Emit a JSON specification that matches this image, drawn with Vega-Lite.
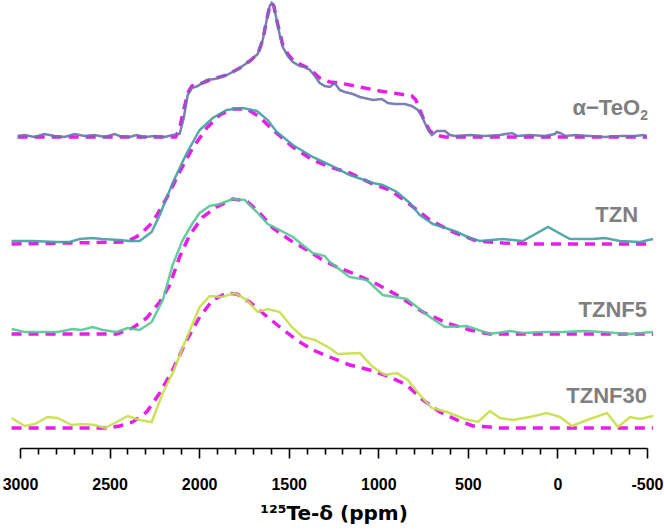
{
"$schema":"https://vega.github.io/schema/vega-lite/v6.json",
"width":627,"height":448,
"autosize":{"type":"none"},
"padding":{"left":20,"top":0,"right":17,"bottom":82},
"background":"white",
"config":{"view":{"stroke":null}},
"datasets":{
"sp":[
{"s":"α-TeO2","k":"exp","ppm":3013,"i":312},{"s":"α-TeO2","k":"exp","ppm":2974,"i":313},{"s":"α-TeO2","k":"exp","ppm":2918,"i":311},{"s":"α-TeO2","k":"exp","ppm":2863,"i":314},{"s":"α-TeO2","k":"exp","ppm":2807,"i":312},{"s":"α-TeO2","k":"exp","ppm":2751,"i":311},{"s":"α-TeO2","k":"exp","ppm":2695,"i":314},{"s":"α-TeO2","k":"exp","ppm":2639,"i":312},{"s":"α-TeO2","k":"exp","ppm":2583,"i":313},{"s":"α-TeO2","k":"exp","ppm":2527,"i":311},{"s":"α-TeO2","k":"exp","ppm":2472,"i":314},{"s":"α-TeO2","k":"exp","ppm":2444,"i":312},{"s":"α-TeO2","k":"exp","ppm":2388,"i":311},{"s":"α-TeO2","k":"exp","ppm":2349,"i":313},{"s":"α-TeO2","k":"exp","ppm":2304,"i":311},{"s":"α-TeO2","k":"exp","ppm":2248,"i":312},{"s":"α-TeO2","k":"exp","ppm":2192,"i":311},{"s":"α-TeO2","k":"exp","ppm":2148,"i":313},{"s":"α-TeO2","k":"exp","ppm":2109,"i":314},{"s":"α-TeO2","k":"exp","ppm":2086,"i":330},{"s":"α-TeO2","k":"exp","ppm":2064,"i":353},{"s":"α-TeO2","k":"exp","ppm":2041,"i":360},{"s":"α-TeO2","k":"exp","ppm":2008,"i":362},{"s":"α-TeO2","k":"exp","ppm":1958,"i":368},{"s":"α-TeO2","k":"exp","ppm":1913,"i":369},{"s":"α-TeO2","k":"exp","ppm":1846,"i":373},{"s":"α-TeO2","k":"exp","ppm":1773,"i":380},{"s":"α-TeO2","k":"exp","ppm":1718,"i":387},{"s":"α-TeO2","k":"exp","ppm":1673,"i":394},{"s":"α-TeO2","k":"exp","ppm":1645,"i":408},{"s":"α-TeO2","k":"exp","ppm":1623,"i":428},{"s":"α-TeO2","k":"exp","ppm":1606,"i":442},{"s":"α-TeO2","k":"exp","ppm":1595,"i":445},{"s":"α-TeO2","k":"exp","ppm":1583,"i":442},{"s":"α-TeO2","k":"exp","ppm":1567,"i":428},{"s":"α-TeO2","k":"exp","ppm":1550,"i":413},{"s":"α-TeO2","k":"exp","ppm":1533,"i":401},{"s":"α-TeO2","k":"exp","ppm":1505,"i":392},{"s":"α-TeO2","k":"exp","ppm":1477,"i":386},{"s":"α-TeO2","k":"exp","ppm":1438,"i":382},{"s":"α-TeO2","k":"exp","ppm":1410,"i":381},{"s":"α-TeO2","k":"exp","ppm":1382,"i":378},{"s":"α-TeO2","k":"exp","ppm":1354,"i":372},{"s":"α-TeO2","k":"exp","ppm":1327,"i":365},{"s":"α-TeO2","k":"exp","ppm":1299,"i":362},{"s":"α-TeO2","k":"exp","ppm":1271,"i":361},{"s":"α-TeO2","k":"exp","ppm":1243,"i":365},{"s":"α-TeO2","k":"exp","ppm":1215,"i":358},{"s":"α-TeO2","k":"exp","ppm":1187,"i":356},{"s":"α-TeO2","k":"exp","ppm":1142,"i":354},{"s":"α-TeO2","k":"exp","ppm":1103,"i":351},{"s":"α-TeO2","k":"exp","ppm":1030,"i":348},{"s":"α-TeO2","k":"exp","ppm":980,"i":349},{"s":"α-TeO2","k":"exp","ppm":947,"i":345},{"s":"α-TeO2","k":"exp","ppm":908,"i":344},{"s":"α-TeO2","k":"exp","ppm":852,"i":344},{"s":"α-TeO2","k":"exp","ppm":813,"i":342},{"s":"α-TeO2","k":"exp","ppm":779,"i":338},{"s":"α-TeO2","k":"exp","ppm":757,"i":332},{"s":"α-TeO2","k":"exp","ppm":740,"i":325},{"s":"α-TeO2","k":"exp","ppm":718,"i":317},{"s":"α-TeO2","k":"exp","ppm":701,"i":313},{"s":"α-TeO2","k":"exp","ppm":673,"i":317},{"s":"α-TeO2","k":"exp","ppm":628,"i":317},{"s":"α-TeO2","k":"exp","ppm":600,"i":313},{"s":"α-TeO2","k":"exp","ppm":572,"i":312},{"s":"α-TeO2","k":"exp","ppm":489,"i":313},{"s":"α-TeO2","k":"exp","ppm":405,"i":312},{"s":"α-TeO2","k":"exp","ppm":321,"i":313},{"s":"α-TeO2","k":"exp","ppm":254,"i":315},{"s":"α-TeO2","k":"exp","ppm":221,"i":312},{"s":"α-TeO2","k":"exp","ppm":154,"i":313},{"s":"α-TeO2","k":"exp","ppm":70,"i":312},{"s":"α-TeO2","k":"exp","ppm":14,"i":314},{"s":"α-TeO2","k":"exp","ppm":3,"i":316},{"s":"α-TeO2","k":"exp","ppm":-14,"i":315},{"s":"α-TeO2","k":"exp","ppm":-48,"i":312},{"s":"α-TeO2","k":"exp","ppm":-98,"i":313},{"s":"α-TeO2","k":"exp","ppm":-182,"i":312},{"s":"α-TeO2","k":"exp","ppm":-265,"i":311},{"s":"α-TeO2","k":"exp","ppm":-349,"i":312},{"s":"α-TeO2","k":"exp","ppm":-433,"i":312},{"s":"α-TeO2","k":"exp","ppm":-478,"i":313},{"s":"α-TeO2","k":"exp","ppm":-500,"i":312},
{"s":"α-TeO2","k":"fit","ppm":3013,"i":311},{"s":"α-TeO2","k":"fit","ppm":2779,"i":311},{"s":"α-TeO2","k":"fit","ppm":2444,"i":311},{"s":"α-TeO2","k":"fit","ppm":2131,"i":311},{"s":"α-TeO2","k":"fit","ppm":2109,"i":320},{"s":"α-TeO2","k":"fit","ppm":2086,"i":338},{"s":"α-TeO2","k":"fit","ppm":2064,"i":355},{"s":"α-TeO2","k":"fit","ppm":2041,"i":362},{"s":"α-TeO2","k":"fit","ppm":1997,"i":364},{"s":"α-TeO2","k":"fit","ppm":1941,"i":368},{"s":"α-TeO2","k":"fit","ppm":1846,"i":373},{"s":"α-TeO2","k":"fit","ppm":1773,"i":380},{"s":"α-TeO2","k":"fit","ppm":1718,"i":387},{"s":"α-TeO2","k":"fit","ppm":1673,"i":394},{"s":"α-TeO2","k":"fit","ppm":1645,"i":408},{"s":"α-TeO2","k":"fit","ppm":1623,"i":428},{"s":"α-TeO2","k":"fit","ppm":1606,"i":442},{"s":"α-TeO2","k":"fit","ppm":1595,"i":445},{"s":"α-TeO2","k":"fit","ppm":1583,"i":442},{"s":"α-TeO2","k":"fit","ppm":1567,"i":428},{"s":"α-TeO2","k":"fit","ppm":1550,"i":415},{"s":"α-TeO2","k":"fit","ppm":1533,"i":403},{"s":"α-TeO2","k":"fit","ppm":1505,"i":394},{"s":"α-TeO2","k":"fit","ppm":1477,"i":388},{"s":"α-TeO2","k":"fit","ppm":1438,"i":384},{"s":"α-TeO2","k":"fit","ppm":1382,"i":379},{"s":"α-TeO2","k":"fit","ppm":1327,"i":370},{"s":"α-TeO2","k":"fit","ppm":1271,"i":366},{"s":"α-TeO2","k":"fit","ppm":1215,"i":365},{"s":"α-TeO2","k":"fit","ppm":1103,"i":361},{"s":"α-TeO2","k":"fit","ppm":991,"i":357},{"s":"α-TeO2","k":"fit","ppm":880,"i":354},{"s":"α-TeO2","k":"fit","ppm":813,"i":352},{"s":"α-TeO2","k":"fit","ppm":790,"i":348},{"s":"α-TeO2","k":"fit","ppm":768,"i":338},{"s":"α-TeO2","k":"fit","ppm":740,"i":326},{"s":"α-TeO2","k":"fit","ppm":712,"i":317},{"s":"α-TeO2","k":"fit","ppm":679,"i":313},{"s":"α-TeO2","k":"fit","ppm":628,"i":311},{"s":"α-TeO2","k":"fit","ppm":321,"i":311},{"s":"α-TeO2","k":"fit","ppm":-14,"i":311},{"s":"α-TeO2","k":"fit","ppm":-500,"i":311},
{"s":"TZN","k":"exp","ppm":3047,"i":207},{"s":"TZN","k":"exp","ppm":2930,"i":207},{"s":"TZN","k":"exp","ppm":2796,"i":206},{"s":"TZN","k":"exp","ppm":2723,"i":206},{"s":"TZN","k":"exp","ppm":2667,"i":209},{"s":"TZN","k":"exp","ppm":2600,"i":210},{"s":"TZN","k":"exp","ppm":2539,"i":209},{"s":"TZN","k":"exp","ppm":2444,"i":208},{"s":"TZN","k":"exp","ppm":2388,"i":207},{"s":"TZN","k":"exp","ppm":2332,"i":207},{"s":"TZN","k":"exp","ppm":2265,"i":216},{"s":"TZN","k":"exp","ppm":2220,"i":233},{"s":"TZN","k":"exp","ppm":2148,"i":265},{"s":"TZN","k":"exp","ppm":2069,"i":295},{"s":"TZN","k":"exp","ppm":1997,"i":318},{"s":"TZN","k":"exp","ppm":1924,"i":330},{"s":"TZN","k":"exp","ppm":1846,"i":338},{"s":"TZN","k":"exp","ppm":1757,"i":340},{"s":"TZN","k":"exp","ppm":1678,"i":337},{"s":"TZN","k":"exp","ppm":1617,"i":328},{"s":"TZN","k":"exp","ppm":1567,"i":316},{"s":"TZN","k":"exp","ppm":1477,"i":303},{"s":"TZN","k":"exp","ppm":1366,"i":291},{"s":"TZN","k":"exp","ppm":1271,"i":283},{"s":"TZN","k":"exp","ppm":1159,"i":273},{"s":"TZN","k":"exp","ppm":1030,"i":265},{"s":"TZN","k":"exp","ppm":975,"i":263},{"s":"TZN","k":"exp","ppm":896,"i":256},{"s":"TZN","k":"exp","ppm":824,"i":245},{"s":"TZN","k":"exp","ppm":768,"i":233},{"s":"TZN","k":"exp","ppm":695,"i":224},{"s":"TZN","k":"exp","ppm":640,"i":221},{"s":"TZN","k":"exp","ppm":561,"i":216},{"s":"TZN","k":"exp","ppm":489,"i":210},{"s":"TZN","k":"exp","ppm":433,"i":207},{"s":"TZN","k":"exp","ppm":304,"i":209},{"s":"TZN","k":"exp","ppm":193,"i":207},{"s":"TZN","k":"exp","ppm":53,"i":221},{"s":"TZN","k":"exp","ppm":-70,"i":209},{"s":"TZN","k":"exp","ppm":-198,"i":209},{"s":"TZN","k":"exp","ppm":-265,"i":210},{"s":"TZN","k":"exp","ppm":-349,"i":207},{"s":"TZN","k":"exp","ppm":-461,"i":206},{"s":"TZN","k":"exp","ppm":-534,"i":209},
{"s":"TZN","k":"fit","ppm":3047,"i":204},{"s":"TZN","k":"fit","ppm":2405,"i":206},{"s":"TZN","k":"fit","ppm":2332,"i":213},{"s":"TZN","k":"fit","ppm":2259,"i":226},{"s":"TZN","k":"fit","ppm":2181,"i":250},{"s":"TZN","k":"fit","ppm":2109,"i":276},{"s":"TZN","k":"fit","ppm":2036,"i":300},{"s":"TZN","k":"fit","ppm":1958,"i":320},{"s":"TZN","k":"fit","ppm":1885,"i":333},{"s":"TZN","k":"fit","ppm":1812,"i":339},{"s":"TZN","k":"fit","ppm":1734,"i":339},{"s":"TZN","k":"fit","ppm":1662,"i":331},{"s":"TZN","k":"fit","ppm":1589,"i":318},{"s":"TZN","k":"fit","ppm":1477,"i":301},{"s":"TZN","k":"fit","ppm":1366,"i":288},{"s":"TZN","k":"fit","ppm":1271,"i":281},{"s":"TZN","k":"fit","ppm":1159,"i":275},{"s":"TZN","k":"fit","ppm":1030,"i":264},{"s":"TZN","k":"fit","ppm":936,"i":258},{"s":"TZN","k":"fit","ppm":841,"i":246},{"s":"TZN","k":"fit","ppm":712,"i":228},{"s":"TZN","k":"fit","ppm":584,"i":216},{"s":"TZN","k":"fit","ppm":450,"i":207},{"s":"TZN","k":"fit","ppm":304,"i":205},{"s":"TZN","k":"fit","ppm":150,"i":204},{"s":"TZN","k":"fit","ppm":-534,"i":204},
{"s":"TZNF5","k":"exp","ppm":3047,"i":119},{"s":"TZNF5","k":"exp","ppm":2974,"i":116},{"s":"TZNF5","k":"exp","ppm":2874,"i":116},{"s":"TZNF5","k":"exp","ppm":2790,"i":116},{"s":"TZNF5","k":"exp","ppm":2706,"i":119},{"s":"TZNF5","k":"exp","ppm":2656,"i":118},{"s":"TZNF5","k":"exp","ppm":2594,"i":121},{"s":"TZNF5","k":"exp","ppm":2539,"i":118},{"s":"TZNF5","k":"exp","ppm":2460,"i":116},{"s":"TZNF5","k":"exp","ppm":2399,"i":120},{"s":"TZNF5","k":"exp","ppm":2332,"i":118},{"s":"TZNF5","k":"exp","ppm":2265,"i":126},{"s":"TZNF5","k":"exp","ppm":2203,"i":148},{"s":"TZNF5","k":"exp","ppm":2148,"i":183},{"s":"TZNF5","k":"exp","ppm":2092,"i":208},{"s":"TZNF5","k":"exp","ppm":2036,"i":225},{"s":"TZNF5","k":"exp","ppm":1997,"i":235},{"s":"TZNF5","k":"exp","ppm":1941,"i":242},{"s":"TZNF5","k":"exp","ppm":1885,"i":244},{"s":"TZNF5","k":"exp","ppm":1812,"i":249},{"s":"TZNF5","k":"exp","ppm":1745,"i":248},{"s":"TZNF5","k":"exp","ppm":1678,"i":236},{"s":"TZNF5","k":"exp","ppm":1617,"i":224},{"s":"TZNF5","k":"exp","ppm":1550,"i":218},{"s":"TZNF5","k":"exp","ppm":1477,"i":211},{"s":"TZNF5","k":"exp","ppm":1366,"i":195},{"s":"TZNF5","k":"exp","ppm":1299,"i":192},{"s":"TZNF5","k":"exp","ppm":1271,"i":186},{"s":"TZNF5","k":"exp","ppm":1159,"i":171},{"s":"TZNF5","k":"exp","ppm":1064,"i":168},{"s":"TZNF5","k":"exp","ppm":975,"i":153},{"s":"TZNF5","k":"exp","ppm":841,"i":149},{"s":"TZNF5","k":"exp","ppm":712,"i":131},{"s":"TZNF5","k":"exp","ppm":628,"i":121},{"s":"TZNF5","k":"exp","ppm":505,"i":122},{"s":"TZNF5","k":"exp","ppm":377,"i":114},{"s":"TZNF5","k":"exp","ppm":265,"i":117},{"s":"TZNF5","k":"exp","ppm":193,"i":115},{"s":"TZNF5","k":"exp","ppm":81,"i":116},{"s":"TZNF5","k":"exp","ppm":-31,"i":116},{"s":"TZNF5","k":"exp","ppm":-142,"i":117},{"s":"TZNF5","k":"exp","ppm":-254,"i":116},{"s":"TZNF5","k":"exp","ppm":-405,"i":114},{"s":"TZNF5","k":"exp","ppm":-534,"i":116},
{"s":"TZNF5","k":"fit","ppm":3047,"i":114},{"s":"TZNF5","k":"fit","ppm":2460,"i":114},{"s":"TZNF5","k":"fit","ppm":2371,"i":120},{"s":"TZNF5","k":"fit","ppm":2293,"i":130},{"s":"TZNF5","k":"fit","ppm":2220,"i":146},{"s":"TZNF5","k":"fit","ppm":2164,"i":163},{"s":"TZNF5","k":"fit","ppm":2109,"i":191},{"s":"TZNF5","k":"fit","ppm":2053,"i":213},{"s":"TZNF5","k":"fit","ppm":1980,"i":231},{"s":"TZNF5","k":"fit","ppm":1902,"i":241},{"s":"TZNF5","k":"fit","ppm":1812,"i":249},{"s":"TZNF5","k":"fit","ppm":1734,"i":247},{"s":"TZNF5","k":"fit","ppm":1662,"i":235},{"s":"TZNF5","k":"fit","ppm":1589,"i":220},{"s":"TZNF5","k":"fit","ppm":1494,"i":208},{"s":"TZNF5","k":"fit","ppm":1399,"i":198},{"s":"TZNF5","k":"fit","ppm":1310,"i":188},{"s":"TZNF5","k":"fit","ppm":1232,"i":181},{"s":"TZNF5","k":"fit","ppm":1159,"i":176},{"s":"TZNF5","k":"fit","ppm":1030,"i":166},{"s":"TZNF5","k":"fit","ppm":896,"i":153},{"s":"TZNF5","k":"fit","ppm":751,"i":136},{"s":"TZNF5","k":"fit","ppm":617,"i":125},{"s":"TZNF5","k":"fit","ppm":489,"i":118},{"s":"TZNF5","k":"fit","ppm":377,"i":114},{"s":"TZNF5","k":"fit","ppm":-534,"i":114},
{"s":"TZNF30","k":"exp","ppm":3047,"i":30},{"s":"TZNF30","k":"exp","ppm":2974,"i":22},{"s":"TZNF30","k":"exp","ppm":2918,"i":24},{"s":"TZNF30","k":"exp","ppm":2846,"i":31},{"s":"TZNF30","k":"exp","ppm":2790,"i":30},{"s":"TZNF30","k":"exp","ppm":2712,"i":23},{"s":"TZNF30","k":"exp","ppm":2650,"i":24},{"s":"TZNF30","k":"exp","ppm":2583,"i":23},{"s":"TZNF30","k":"exp","ppm":2527,"i":20},{"s":"TZNF30","k":"exp","ppm":2460,"i":26},{"s":"TZNF30","k":"exp","ppm":2399,"i":32},{"s":"TZNF30","k":"exp","ppm":2332,"i":28},{"s":"TZNF30","k":"exp","ppm":2265,"i":26},{"s":"TZNF30","k":"exp","ppm":2203,"i":55},{"s":"TZNF30","k":"exp","ppm":2148,"i":75},{"s":"TZNF30","k":"exp","ppm":2081,"i":105},{"s":"TZNF30","k":"exp","ppm":1997,"i":141},{"s":"TZNF30","k":"exp","ppm":1941,"i":152},{"s":"TZNF30","k":"exp","ppm":1874,"i":151},{"s":"TZNF30","k":"exp","ppm":1801,"i":155},{"s":"TZNF30","k":"exp","ppm":1734,"i":148},{"s":"TZNF30","k":"exp","ppm":1673,"i":136},{"s":"TZNF30","k":"exp","ppm":1617,"i":139},{"s":"TZNF30","k":"exp","ppm":1550,"i":136},{"s":"TZNF30","k":"exp","ppm":1483,"i":121},{"s":"TZNF30","k":"exp","ppm":1421,"i":111},{"s":"TZNF30","k":"exp","ppm":1354,"i":108},{"s":"TZNF30","k":"exp","ppm":1271,"i":100},{"s":"TZNF30","k":"exp","ppm":1226,"i":94},{"s":"TZNF30","k":"exp","ppm":1103,"i":95},{"s":"TZNF30","k":"exp","ppm":1030,"i":81},{"s":"TZNF30","k":"exp","ppm":963,"i":73},{"s":"TZNF30","k":"exp","ppm":896,"i":75},{"s":"TZNF30","k":"exp","ppm":835,"i":68},{"s":"TZNF30","k":"exp","ppm":768,"i":53},{"s":"TZNF30","k":"exp","ppm":701,"i":40},{"s":"TZNF30","k":"exp","ppm":617,"i":36},{"s":"TZNF30","k":"exp","ppm":517,"i":29},{"s":"TZNF30","k":"exp","ppm":444,"i":26},{"s":"TZNF30","k":"exp","ppm":377,"i":37},{"s":"TZNF30","k":"exp","ppm":321,"i":30},{"s":"TZNF30","k":"exp","ppm":249,"i":28},{"s":"TZNF30","k":"exp","ppm":154,"i":31},{"s":"TZNF30","k":"exp","ppm":59,"i":35},{"s":"TZNF30","k":"exp","ppm":-14,"i":31},{"s":"TZNF30","k":"exp","ppm":-81,"i":22},{"s":"TZNF30","k":"exp","ppm":-165,"i":28},{"s":"TZNF30","k":"exp","ppm":-277,"i":35},{"s":"TZNF30","k":"exp","ppm":-338,"i":21},{"s":"TZNF30","k":"exp","ppm":-405,"i":31},{"s":"TZNF30","k":"exp","ppm":-461,"i":29},{"s":"TZNF30","k":"exp","ppm":-534,"i":32},
{"s":"TZNF30","k":"fit","ppm":3047,"i":20},{"s":"TZNF30","k":"fit","ppm":2516,"i":20},{"s":"TZNF30","k":"fit","ppm":2444,"i":22},{"s":"TZNF30","k":"fit","ppm":2371,"i":26},{"s":"TZNF30","k":"fit","ppm":2293,"i":36},{"s":"TZNF30","k":"fit","ppm":2220,"i":55},{"s":"TZNF30","k":"fit","ppm":2148,"i":78},{"s":"TZNF30","k":"fit","ppm":2069,"i":108},{"s":"TZNF30","k":"fit","ppm":1997,"i":131},{"s":"TZNF30","k":"fit","ppm":1924,"i":148},{"s":"TZNF30","k":"fit","ppm":1846,"i":155},{"s":"TZNF30","k":"fit","ppm":1790,"i":154},{"s":"TZNF30","k":"fit","ppm":1718,"i":146},{"s":"TZNF30","k":"fit","ppm":1645,"i":135},{"s":"TZNF30","k":"fit","ppm":1550,"i":121},{"s":"TZNF30","k":"fit","ppm":1455,"i":108},{"s":"TZNF30","k":"fit","ppm":1366,"i":98},{"s":"TZNF30","k":"fit","ppm":1271,"i":91},{"s":"TZNF30","k":"fit","ppm":1159,"i":83},{"s":"TZNF30","k":"fit","ppm":1047,"i":78},{"s":"TZNF30","k":"fit","ppm":936,"i":71},{"s":"TZNF30","k":"fit","ppm":841,"i":63},{"s":"TZNF30","k":"fit","ppm":751,"i":48},{"s":"TZNF30","k":"fit","ppm":656,"i":36},{"s":"TZNF30","k":"fit","ppm":561,"i":28},{"s":"TZNF30","k":"fit","ppm":472,"i":22},{"s":"TZNF30","k":"fit","ppm":377,"i":21},{"s":"TZNF30","k":"fit","ppm":321,"i":20},{"s":"TZNF30","k":"fit","ppm":-534,"i":20}
],
"lb":[
{"t":"α−TeO","ppm":-461,"i":333},
{"t":"TZN","ppm":-450,"i":226},
{"t":"TZNF5","ppm":-500,"i":131},
{"t":"TZNF30","ppm":-500,"i":45}
]
},
"encoding":{
"x":{"field":"ppm","type":"quantitative",
"scale":{"domain":[-500,3000],"reverse":true,"nice":false,"zero":false},
"axis":{"values":[3000,2900,2800,2700,2600,2500,2400,2300,2200,2100,2000,1900,1800,1700,1600,1500,1400,1300,1200,1100,1000,900,800,700,600,500,400,300,200,100,0,-100,-200,-300,-400,-500],
"labelExpr":"datum.value % 500 === 0 ? '' + datum.value : ''",
"tickSize":{"condition":{"test":"datum.value % 500 === 0","value":10},"value":6},
"grid":false,"domainColor":"#000000","domainWidth":1.6,"tickColor":"#000000","tickWidth":1.6,
"labelFont":"Liberation Sans","labelFontWeight":"bold","labelFontSize":16,"labelColor":"#000000","labelPadding":18,"labelOverlap":false,"labelFlush":false,
"title":"¹²⁵Te-δ (ppm)","titleFont":"DejaVu Sans","titleFontWeight":"bold","titleFontSize":20,"titleColor":"#000000","titlePadding":11}},
"y":{"field":"i","type":"quantitative","scale":{"domain":[0,448],"nice":false,"zero":false},"axis":null}
},
"layer":[
{"data":{"name":"sp"},"transform":[{"filter":"datum.k === 'fit'"}],
"mark":{"type":"line","color":"#e61ee6","strokeWidth":3.5,"strokeDash":[10,7]},
"encoding":{"detail":{"field":"s"}}},
{"data":{"name":"sp"},"transform":[{"filter":"datum.k === 'exp'"}],
"mark":{"type":"line","strokeWidth":2.5,"opacity":0.9},
"encoding":{"color":{"field":"s","type":"nominal","scale":{"domain":["α-TeO2","TZN","TZNF5","TZNF30"],"range":["#6c72ab","#429da3","#56c595","#c4e048"]},"legend":null}}},
{"data":{"name":"lb"},
"mark":{"type":"text","align":"right","baseline":"alphabetic","font":"Liberation Sans","fontWeight":"bold","fontSize":22,"color":"#7f7f7f"},
"encoding":{"text":{"field":"t"}}},
{"data":{"values":[{"t":"2","ppm":-506,"i":328}]},
"mark":{"type":"text","align":"right","baseline":"alphabetic","font":"Liberation Sans","fontWeight":"bold","fontSize":14,"color":"#7f7f7f"},
"encoding":{"text":{"field":"t"}}}
]
}
